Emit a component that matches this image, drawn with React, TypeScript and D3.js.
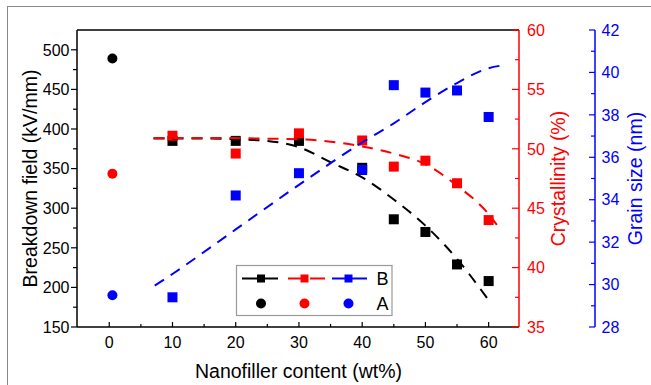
import * as d3 from 'd3';

const FONT = '"Liberation Sans", Arial, Helvetica, sans-serif';

// measured samples (B) and reference sample (A)
const contentLevels = [10, 20, 30, 40, 45, 50, 55, 60];
const breakdownField = [385, 385, 385, 351, 286, 270, 229, 208];
const crystallinity = [51.1, 49.6, 51.3, 50.7, 48.5, 49.0, 47.1, 44.0];
const grainSize = [29.4, 34.2, 35.25, 35.4, 39.4, 39.05, 39.15, 37.9];

const sampleAContent = [0.5];
const sampleABreakdown = [489];
const sampleACryst = [47.9];
const sampleAGrain = [29.5];

// dashed guide curves
const breakdownFitX = [7, 15, 20, 25, 30, 35, 40, 45, 50, 55, 59.8];
const breakdownFitY = [388, 388, 387, 385, 377, 358, 339, 311, 278, 236, 186];
const crystFitX = [7, 15, 20, 25, 30, 35, 40, 45, 50, 55, 60, 61.3];
const crystFitY = [50.9, 50.9, 50.9, 50.85, 50.8, 50.6, 50.2, 49.6, 48.7, 46.9, 44.5, 43.6];
const grainFitX = [7.2, 10, 20, 30, 40, 45, 50, 55, 60, 62.6];
const grainFitY = [29.95, 30.5, 32.6, 34.7, 36.7, 37.6, 38.6, 39.5, 40.2, 40.35];

const xTicks = [0, 10, 20, 30, 40, 50, 60];
const xMinor = [5, 15, 25, 35, 45, 55];
const bTicks = [150, 200, 250, 300, 350, 400, 450, 500];
const bMinor = [175, 225, 275, 325, 375, 425, 475];
const cTicks = [35, 40, 45, 50, 55, 60];
const cMinor = [37.5, 42.5, 47.5, 52.5, 57.5];
const gTicks = [28, 30, 32, 34, 36, 38, 40, 42];
const gMinor = [29, 31, 33, 35, 37, 39, 41];

const RED = '#ff0000';
const BLUE = '#0000ff';

const L = 77;
const R = 519;
const T = 30;
const B = 327;
const BLUE_AXIS = 595;

export default function App() {
  const x = d3.scaleLinear().domain([-5.1, 64.8]).range([L, R]);
  const yB = d3.scaleLinear().domain([150, 525]).range([B, T]);
  const yC = d3.scaleLinear().domain([35, 60]).range([B, T]);
  const yG = d3.scaleLinear().domain([28, 42]).range([B, T]);

  const fit = (xs: number[], ys: number[], ys2: d3.ScaleLinear<number, number>) =>
    d3
      .line<number>()
      .x((d) => x(d))
      .y((_, i) => ys2(ys[i]))
      .curve(d3.curveMonotoneX)(xs) ?? '';

  const sq = 10;
  const squares = (vals: number[], sc: d3.ScaleLinear<number, number>, color: string) =>
    contentLevels.map((c, i) => (
      <rect
        key={color + i}
        x={x(c) - sq / 2}
        y={sc(vals[i]) - sq / 2}
        width={sq}
        height={sq}
        fill={color}
      />
    ));

  return (
    <svg
      width={651}
      height={385}
      style={{ position: 'absolute', left: 0, top: 0, background: '#fff' }}
      fontFamily={FONT}
    >
      {/* outer frame */}
      <rect x={7.5} y={6.5} width={700} height={420} fill="none" stroke="#8a8a8a" strokeWidth={1} />

      {/* plot frame: left, bottom, top */}
      <line x1={L} x2={L} y1={T} y2={B} stroke="#000" strokeWidth={1.5} />
      <line x1={L} x2={R} y1={B} y2={B} stroke="#000" strokeWidth={1.5} />
      <line x1={L} x2={R} y1={T} y2={T} stroke="#000" strokeWidth={1.5} />

      {/* x axis ticks (inward) */}
      {xTicks.map((t) => (
        <g key={'xt' + t}>
          <line x1={x(t)} x2={x(t)} y1={B} y2={B - 5} stroke="#000" strokeWidth={1.2} />
          <text x={x(t)} y={347.7} fontSize={16} textAnchor="middle">
            {t}
          </text>
        </g>
      ))}
      {xMinor.map((t) => (
        <line key={'xm' + t} x1={x(t)} x2={x(t)} y1={B} y2={B - 3} stroke="#000" strokeWidth={1.2} />
      ))}

      {/* left axis (outward ticks) */}
      {bTicks.map((t) => (
        <g key={'bt' + t}>
          <line x1={L - 6} x2={L} y1={yB(t)} y2={yB(t)} stroke="#000" strokeWidth={1.2} />
          <text x={69.5} y={yB(t)} dy="0.36em" fontSize={16} textAnchor="end">
            {t}
          </text>
        </g>
      ))}
      {bMinor.map((t) => (
        <line key={'bm' + t} x1={L - 4} x2={L} y1={yB(t)} y2={yB(t)} stroke="#000" strokeWidth={1.2} />
      ))}

      {/* crystallinity axis */}
      <line x1={R} x2={R} y1={T} y2={B} stroke={RED} strokeWidth={1.5} />
      {cTicks.map((t) => (
        <g key={'ct' + t}>
          <line x1={R - 7} x2={R} y1={yC(t)} y2={yC(t)} stroke={RED} strokeWidth={1.2} />
          <text x={527} y={yC(t)} dy="0.36em" fontSize={16} fill={RED}>
            {t}
          </text>
        </g>
      ))}
      {cMinor.map((t) => (
        <line key={'cm' + t} x1={R - 4} x2={R} y1={yC(t)} y2={yC(t)} stroke={RED} strokeWidth={1.2} />
      ))}

      {/* grain size axis */}
      <line x1={BLUE_AXIS} x2={BLUE_AXIS} y1={T} y2={B} stroke={BLUE} strokeWidth={1.5} />
      {gTicks.map((t) => (
        <g key={'gt' + t}>
          <line x1={BLUE_AXIS - 6} x2={BLUE_AXIS} y1={yG(t)} y2={yG(t)} stroke={BLUE} strokeWidth={1.2} />
          <text x={601.5} y={yG(t)} dy="0.36em" fontSize={16} fill={BLUE}>
            {t}
          </text>
        </g>
      ))}
      {gMinor.map((t) => (
        <line key={'gm' + t} x1={BLUE_AXIS - 4} x2={BLUE_AXIS} y1={yG(t)} y2={yG(t)} stroke={BLUE} strokeWidth={1.2} />
      ))}

      {/* axis titles */}
      <text x={298.5} y={378} fontSize={19.5} textAnchor="middle">
        Nanofiller content (wt%)
      </text>
      <text transform={`translate(36.5, ${(T + B) / 2}) rotate(-90)`} fontSize={19.5} textAnchor="middle">
        Breakdown field (kV/mm)
      </text>
      <text transform={`translate(565, ${(T + B) / 2}) rotate(-90)`} fontSize={19.5} textAnchor="middle" fill={RED}>
        Crystallinity (%)
      </text>
      <text transform={`translate(641.5, ${(T + B) / 2}) rotate(-90)`} fontSize={19.5} textAnchor="middle" fill={BLUE}>
        Grain size (nm)
      </text>

      {/* series B squares */}
      {squares(breakdownField, yB, '#000')}
      {squares(crystallinity, yC, RED)}
      {squares(grainSize, yG, BLUE)}

      {/* dashed guide curves */}
      <path d={fit(breakdownFitX, breakdownFitY, yB)} fill="none" stroke="#000" strokeWidth={2} strokeDasharray="11,8" />
      <path d={fit(crystFitX, crystFitY, yC)} fill="none" stroke={RED} strokeWidth={2} strokeDasharray="11,8" />
      <path d={fit(grainFitX, grainFitY, yG)} fill="none" stroke={BLUE} strokeWidth={2} strokeDasharray="11,8" />

      {/* sample A circles */}
      {sampleAContent.map((c, i) => (
        <g key={'a' + i}>
          <circle cx={x(c)} cy={yB(sampleABreakdown[i])} r={5} fill="#000" />
          <circle cx={x(c)} cy={yC(sampleACryst[i])} r={5} fill={RED} />
          <circle cx={x(c)} cy={yG(sampleAGrain[i])} r={5} fill={BLUE} />
        </g>
      ))}

      {/* legend */}
      <g>
        <rect x={236.5} y={265.5} width={155.5} height={50} fill="#fff" stroke="#9a9a9a" strokeWidth={1.2} />
        <line x1={242} x2={278} y1={278.5} y2={278.5} stroke="#000" strokeWidth={2} />
        <rect x={257} y={274.5} width={8} height={8} fill="#000" />
        <line x1={288} x2={325} y1={278.5} y2={278.5} stroke={RED} strokeWidth={2} strokeDasharray="19,3,15" />
        <rect x={300.5} y={274.5} width={8} height={8} fill={RED} />
        <line x1={332} x2={367} y1={278.5} y2={278.5} stroke={BLUE} strokeWidth={2} />
        <rect x={344.5} y={274.5} width={8} height={8} fill={BLUE} />
        <text x={376.5} y={285} fontSize={18}>
          B
        </text>
        <circle cx={261} cy={303.5} r={5} fill="#000" />
        <circle cx={304.5} cy={303.5} r={5} fill={RED} />
        <circle cx={348.5} cy={303.5} r={5} fill={BLUE} />
        <text x={376.5} y={310} fontSize={18}>
          A
        </text>
      </g>
    </svg>
  );
}
